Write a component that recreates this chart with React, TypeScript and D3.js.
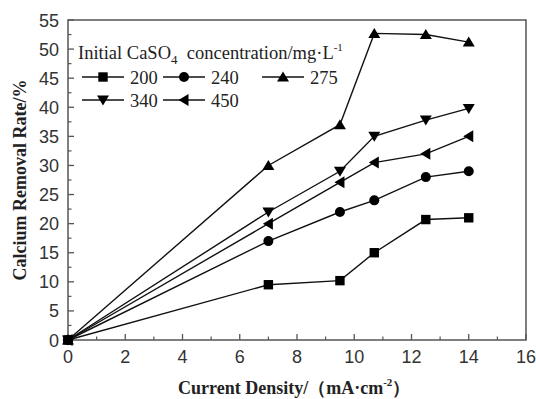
import React from "react";
import * as d3 from "d3";

const xValues = [0, 7, 9.5, 10.7, 12.5, 14];
const seriesNames = ["200", "240", "275", "340", "450"];
const s200 = [0, 9.5, 10.2, 15, 20.7, 21];
const s240 = [0, 17, 22, 24, 28, 29];
const s275 = [0, 30, 37, 52.7, 52.5, 51.2];
const s340 = [0, 22, 29, 35, 37.8, 39.8];
const s450 = [0, 20, 27.1, 30.5, 32, 35];
const xTicks = [0, 2, 4, 6, 8, 10, 12, 14, 16];
const yTicks = [0, 5, 10, 15, 20, 25, 30, 35, 40, 45, 50, 55];

const W = 536, H = 399;
const L = 68, R = 526, T = 20, B = 340;

type Shape = "square" | "circle" | "up" | "down" | "left";
const shapes: Shape[] = ["square", "circle", "up", "down", "left"];
const allSeries = [s200, s240, s275, s340, s450];

function Marker({ x, y, shape }: { x: number; y: number; shape: Shape }) {
  const s = 5;
  if (shape === "square") return <rect x={x - 4.7} y={y - 4.7} width={9.4} height={9.4} fill="#000" />;
  if (shape === "circle") return <circle cx={x} cy={y} r={5} fill="#000" />;
  let pts: [number, number][] = [];
  if (shape === "up") pts = [[x, y - s - 0.5], [x - s - 1, y + s - 0.5], [x + s + 1, y + s - 0.5]];
  if (shape === "down") pts = [[x, y + s + 0.5], [x - s - 1, y - s + 0.5], [x + s + 1, y - s + 0.5]];
  if (shape === "left") pts = [[x - s - 0.5, y], [x + s - 0.5, y - s - 1], [x + s - 0.5, y + s + 1]];
  return <polygon points={pts.map((p) => p.join(",")).join(" ")} fill="#000" />;
}

export default function App() {
  const x = d3.scaleLinear().domain([0, 16]).range([L, R]);
  const y = d3.scaleLinear().domain([0, 55]).range([B, T]);
  const line = d3
    .line<number>()
    .x((_, i) => x(xValues[i]))
    .y((d) => y(d));
  const xMinor = d3.range(1, 16, 2);
  const yMinor = d3.range(2.5, 55, 5);
  const tickFont = "'Liberation Sans', Arial, sans-serif";
  const serif = "'Liberation Serif', 'Times New Roman', serif";

  const legend = [
    { name: seriesNames[0], shape: shapes[0], lx: 82, ly: 77 },
    { name: seriesNames[1], shape: shapes[1], lx: 163, ly: 77 },
    { name: seriesNames[2], shape: shapes[2], lx: 262, ly: 77 },
    { name: seriesNames[3], shape: shapes[3], lx: 82, ly: 100 },
    { name: seriesNames[4], shape: shapes[4], lx: 163, ly: 100 },
  ];

  return (
    <svg width={W} height={H} style={{ position: "absolute", left: 0, top: 0, background: "#fff" }}>
      <rect x={L} y={T} width={R - L} height={B - T} fill="none" stroke="#555" strokeWidth={1.5} />
      {xTicks.map((t) => (
        <g key={"x" + t}>
          <line x1={x(t)} x2={x(t)} y1={B} y2={B - 6} stroke="#555" strokeWidth={1.3} />
          <text x={x(t)} y={B + 23} textAnchor="middle" fontFamily={tickFont} fontSize={18} fill="#333">
            {t}
          </text>
        </g>
      ))}
      {xMinor.map((t) => (
        <line key={"xm" + t} x1={x(t)} x2={x(t)} y1={B} y2={B - 3.5} stroke="#555" strokeWidth={1.2} />
      ))}
      {yTicks.map((t) => (
        <g key={"y" + t}>
          <line x1={L} x2={L + 6} y1={y(t)} y2={y(t)} stroke="#555" strokeWidth={1.3} />
          <text x={L - 9} y={y(t) + 6.5} textAnchor="end" fontFamily={tickFont} fontSize={18} fill="#333">
            {t}
          </text>
        </g>
      ))}
      {yMinor.map((t) => (
        <line key={"ym" + t} x1={L} x2={L + 3.5} y1={y(t)} y2={y(t)} stroke="#555" strokeWidth={1.2} />
      ))}
      {allSeries.map((s, i) => (
        <g key={"s" + i}>
          <path d={line(s) || ""} fill="none" stroke="#111" strokeWidth={1.4} />
          {s.map((v, j) => (
            <Marker key={j} x={x(xValues[j])} y={y(v)} shape={shapes[i]} />
          ))}
        </g>
      ))}
      <text x={78} y={59} fontFamily={serif} fontSize={18.5} fill="#222">
        Initial CaSO
        <tspan fontSize={13} dy={5}>4</tspan>
        <tspan dy={-5}>{"\u00A0 concentration/mg\u00B7L"}</tspan>
        <tspan fontSize={11} dy={-8}>-1</tspan>
      </text>
      {legend.map((e) => (
        <g key={"l" + e.name}>
          <line x1={e.lx} x2={e.lx + 42} y1={e.ly} y2={e.ly} stroke="#111" strokeWidth={1.4} />
          <Marker x={e.lx + 21} y={e.ly} shape={e.shape} />
          <text x={e.lx + 48} y={e.ly + 6.5} fontFamily={serif} fontSize={18.5} fill="#222">
            {e.name}
          </text>
        </g>
      ))}
      <text
        transform={`translate(26, 180) rotate(-90)`}
        textAnchor="middle"
        fontFamily={serif}
        fontWeight="bold"
        fontSize={18}
        fill="#222"
      >
        Calcium Removal Rate/%
      </text>
      <text x={178} y={394} fontFamily={serif} fontWeight="bold" fontSize={18} fill="#222">
        {"Current Density/\uFF08mA\u00B7cm"}
        <tspan fontSize={11} dy={-8}>-2</tspan>
        <tspan dy={8}>{"\uFF09"}</tspan>
      </text>
    </svg>
  );
}
